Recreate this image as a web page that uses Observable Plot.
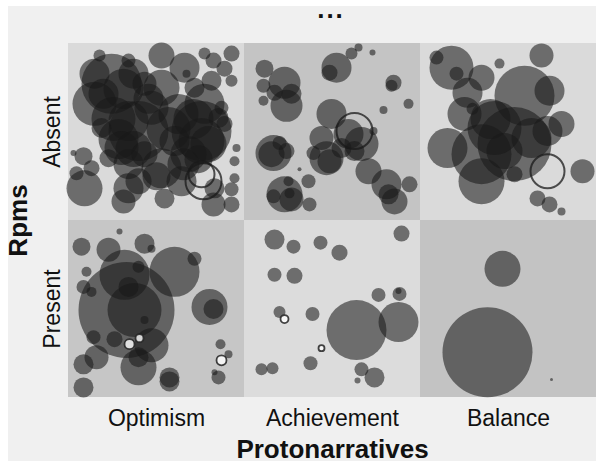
<!DOCTYPE html>
<html>
<head>
<meta charset="utf-8">
<script src="https://cdn.jsdelivr.net/npm/d3@7"></script>
<script src="https://cdn.jsdelivr.net/npm/@observablehq/plot@0.6"></script>
<style>
  html, body { margin: 0; padding: 0; background: #ffffff; }
  #page { position: relative; width: 596px; height: 461px; overflow: hidden; font-family: "Liberation Sans", Arial, sans-serif; }
  #bg { position: absolute; left: 8px; top: 6px; right: 0; bottom: 0; background: #f0f0f0; z-index: 0; }
  #title { position: relative; z-index: 1; height: 25px; padding-top: 5px; padding-left: 66px; text-align: center; }
  #title span { display: block; font-size: 26px; line-height: 8px; font-weight: bold; letter-spacing: 2px; color: #111; }
  #chart { position: relative; z-index: 1; }
  #chart svg { display: block; background: transparent; }
</style>
</head>
<body>
<div id="page">
  <div id="bg"></div>
  <div id="title"><span>...</span></div>
  <div id="chart"></div>
</div>
<script>
// Categories
const protonarratives = ["Optimism", "Achievement", "Balance"];
const rpms = ["Absent", "Present"];
const cellShades = [
  ["#dadada", "#c4c4c4", "#dadada"],
  ["#c6c6c6", "#dcdcdc", "#c3c3c3"]
];

// Circles per cell: [x, y, r] in cell units (0..176, y from top)
const optimismAbsent = [
  [43,40,30],[31,12,6],[26,30,15],[26,60,22],[93,12,13],[116,24,15],[136,10,6],[145,17,8],
  [163,10,8],[156,25,8],[163,37,6],[143,37,10],[118,30,4],[93,44,18],[70,87,30],[60,77,20],
  [133,87,30],[136,60,20],[110,70,20],[83,64,17],[150,74,10],[16,144,18],[15,112,9],[5,109,3],
  [8,129,7],[40,114,9],[60,144,15],[55,157,12],[70,137,13],[93,124,20],[96,154,10],[113,137,15],
  [133,97,23],[145,160,12],[163,160,8],[166,134,5],[166,117,5],[168,104,4],[163,145,7],[146,144,10],
  [156,80,8],[153,64,7],[53,104,17],[76,110,13],[106,97,15],[33,84,10],[23,124,8],[76,40,12],
  [60,17,7],[126,44,10],[45,75,22],[120,110,18],[88,132,14],
  [55,45,20],[65,30,15],[50,95,20],[65,105,18],[100,85,22],[125,75,20],[140,100,18],[115,120,16],
  [35,50,15],[80,55,15],[130,115,14],[60,120,15]
];
const optimismAbsentRings = [[133,130,13],[135,137,18]];
const optimismAbsentLightRings = [];

const achievementAbsent = [
  [20,25,9],[40,39,16],[42,62,16],[30,49,8],[47,50,10],[19,57,5],[19,42,7],
  [92,24,15],[85,29,8],[107,10,6],[114,4,4],[128,9,3],
  [149,39,8],[147,42,6],[164,60,5],[139,66,4],
  [87,70,15],[104,90,15],[117,100,17],[77,94,12],[82,114,17],[85,117,12],[97,104,10],[69,109,7],[129,87,4],[110,107,10],
  [29,109,18],[27,110,13],[42,107,8],[35,99,7],
  [55,125,2],[64,137,7],
  [40,150,18],[29,152,7],[47,155,12],[44,137,5],[65,160,7],[45,149,5],
  [124,127,13],[142,140,15],[150,157,13],[144,150,10],[165,140,8]
];
const achievementAbsentRings = [[110,87,18]];
const achievementAbsentLightRings = [];

const balanceAbsent = [
  [16,14,7],[31,24,22],[36,30,7],[61,34,13],[47,49,15],[79,20,5],[121,12,12],[104,52,30],
  [129,47,15],[44,70,17],[52,65,6],[74,84,27],[94,100,37],[27,104,20],[61,110,30],[84,107,18],
  [111,94,20],[127,87,15],[141,80,13],[94,130,8],[162,127,12],[117,154,8],[129,160,8],[141,167,4],
  [61,137,23],[70,75,20]
];
const balanceAbsentRings = [[127,127,17]];
const balanceAbsentLightRings = [];

const optimismPresent = [
  [13,26,9],[40,29,12],[51,11,3],[76,23,10],[83,28,4],[106,51,25],[126,38,7],[56,54,25],
  [70,46,6],[60,66,10],[58,89,48],[66,89,27],[18,51,5],[15,66,7],[23,71,5],[141,86,18],
  [145,88,10],[76,99,4],[25,116,7],[46,118,8],[83,124,17],[28,136,12],[15,143,10],[15,166,10],
  [70,146,18],[70,136,10],[101,156,10],[101,160,10],[152,123,5],[160,133,4],[150,156,7],[146,151,3]
];
const optimismPresentRings = [];
const optimismPresentLightRings = [[61,123,5],[71,117,4],[153,139,5]];

const achievementPresent = [
  [30,19,10],[49,26,7],[76,22,7],[95,32,8],[157,13,8],[30,54,7],[50,55,8],[35,91,6],
  [68,93,7],[134,74,7],[155,73,7],[154,70,3],[112,109,30],[154,101,20],[66,142,7],[17,148,6],
  [28,147,6],[117,148,7],[130,156,10],[113,159,3]
];
const achievementPresentRings = [];
const achievementPresentLightRings = [[40,98,4],[77,127,3]];

const balancePresent = [[82,48,18],[67,131,45],[131,158,1.5]];
const balancePresentRings = [];
const balancePresentLightRings = [];

// Build tables for the library
const cellDots = [
  ["Optimism","Absent",optimismAbsent,optimismAbsentRings,optimismAbsentLightRings],
  ["Achievement","Absent",achievementAbsent,achievementAbsentRings,achievementAbsentLightRings],
  ["Balance","Absent",balanceAbsent,balanceAbsentRings,balanceAbsentLightRings],
  ["Optimism","Present",optimismPresent,optimismPresentRings,optimismPresentLightRings],
  ["Achievement","Present",achievementPresent,achievementPresentRings,achievementPresentLightRings],
  ["Balance","Present",balancePresent,balancePresentRings,balancePresentLightRings]
];
const dots = [], rings = [], lightRings = [];
for (const [p, q, list, rl, ll] of cellDots) {
  for (const [x, y, r] of list) dots.push({proto: p, rpm: q, x, y, r});
  for (const [x, y, r] of rl) rings.push({proto: p, rpm: q, x, y, r});
  for (const [x, y, r] of ll) lightRings.push({proto: p, rpm: q, x, y, r});
}
const bg = [];
rpms.forEach((q, i) => protonarratives.forEach((p, j) => bg.push({proto: p, rpm: q, shade: cellShades[i][j]})));

const chart = Plot.plot({
  width: 596,
  height: 431,
  marginLeft: 67,
  marginRight: 0,
  marginTop: 13,
  marginBottom: 64,
  style: {fontFamily: "'Liberation Sans', Arial, sans-serif", fontSize: "23px", color: "#111", background: "transparent"},
  fx: {domain: protonarratives, padding: 0, axis: "bottom", tickSize: 0, tickPadding: 12, label: "Protonarratives", labelAnchor: "center", labelOffset: 60},
  fy: {domain: rpms, padding: 0, axis: "left", tickSize: 0, tickPadding: 9, tickRotate: -90, label: "Rpms", labelAnchor: "center", labelOffset: 60},
  x: {domain: [0, 176], axis: null},
  y: {domain: [0, 176], reverse: true, axis: null},
  r: {type: "linear", domain: [0, 50], range: [0, 50]},
  color: {type: "identity"},
  marks: [
    Plot.rect(bg, {fx: "proto", fy: "rpm", fill: "shade"}),
    Plot.dot(dots, {fx: "proto", fy: "rpm", x: "x", y: "y", r: "r", fill: "#191919", fillOpacity: 0.57, stroke: "none"}),
    Plot.dot(rings, {fx: "proto", fy: "rpm", x: "x", y: "y", r: "r", fill: "none", stroke: "#1a1a1a", strokeWidth: 2, strokeOpacity: 0.75}),
    Plot.dot(lightRings, {fx: "proto", fy: "rpm", x: "x", y: "y", r: "r", fill: "#ffffff", fillOpacity: 0.8, stroke: "#222", strokeWidth: 1.8, strokeOpacity: 0.85})
  ]
});
document.getElementById("chart").appendChild(chart);
d3.select(chart).selectAll("text").each(function() {
  const t = this.textContent.trim();
  if (t === "Protonarratives" || t === "Rpms") {
    d3.select(this).style("font-weight", "bold").style("font-size", "26px");
  }
});
</script>
</body>
</html>
